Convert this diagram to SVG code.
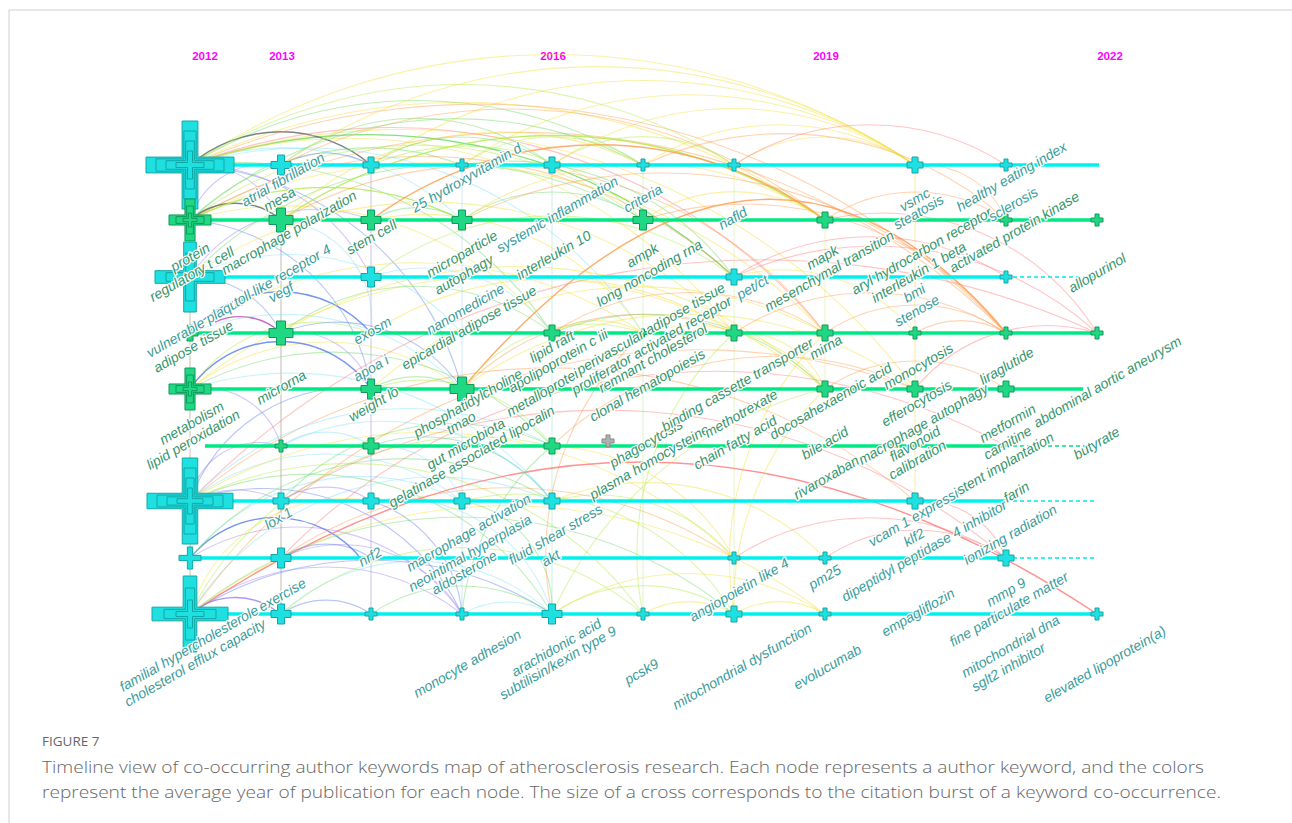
<svg xmlns="http://www.w3.org/2000/svg" xmlns:xlink="http://www.w3.org/1999/xlink" width="1292" height="823" viewBox="0 0 1292 823">
<style>
.yr{font-family:"Liberation Sans",Arial,sans-serif;font-weight:bold;font-size:11.5px;fill:#ff00ff;text-anchor:middle}
.kw text{font-family:"Liberation Sans",Arial,sans-serif;font-style:italic;font-size:14px;stroke:#fff;stroke-width:2.6;stroke-linejoin:round;paint-order:stroke;stroke-opacity:.95}
.lt{fill:#3a9c9a}.lg{fill:#35956c}
.arcs path{fill:none;stroke-width:1.1;opacity:.45}
.arcs path.s{opacity:.85;stroke-width:1.4}
.ag{stroke:#6edc68}.al{stroke:#b4ea4e}.ay{stroke:#f3df3a}.ao{stroke:#ff9f55}.ar{stroke:#ff7f7f}
.ac{stroke:#86e2fa}.ab{stroke:#5f82ee}.ap{stroke:#a084f2}.ak{stroke:#5d6f72}.am{stroke:#c04fc0}.at{stroke:#55ccb0}
.vl line{stroke-width:1;opacity:.55}
.rc{stroke:#00f0f0;stroke-width:3.5}.rg{stroke:#00e884;stroke-width:3.5}
.dc{stroke:#00e8e8;stroke-width:1.5;stroke-dasharray:4 3}.dg{stroke:#00e080;stroke-width:1.5;stroke-dasharray:4 3}
.nc{fill:#1fe0e0;stroke:#12a6a6;stroke-width:1}.ng{fill:#20d884;stroke:#0e9a58;stroke-width:1}.ngr{fill:#b0b0b0;stroke:#888;stroke-width:1}
.in{fill:none}
.cap{font-family:"Open Sans","Liberation Sans",sans-serif;fill:#666;font-weight:300}
</style>
<defs>
<path id="x8" d="M-1.5-4h3v2.5h2.5v3h-2.5v2.5h-3v-2.5h-2.5v-3h2.5z"/>
<path id="x12" d="M-2-6h4v4h4v4h-4v4h-4v-4h-4v-4h4z"/>
<path id="x16" d="M-3-8h6v5h5v6h-5v5h-6v-5h-5v-6h5z"/>
<path id="x20" d="M-3.5-10h7v6.5h6.5v7h-6.5v6.5h-7v-6.5h-6.5v-7h6.5z"/>
<path id="x24" d="M-4.5-12h9v7.5h7.5v9h-7.5v7.5h-9v-7.5h-7.5v-9h7.5z"/>
<path id="bc" d="M-.18-1h.36v.82h.82v.36h-.82v.82h-.36v-.82h-.82v-.36h.82z" vector-effect="non-scaling-stroke"/>
<path id="bw" d="M-.24-1h.48v.76h.76v.48h-.76v.76h-.48v-.76h-.76v-.48h.76z" vector-effect="non-scaling-stroke"/>
</defs>
<rect width="1292" height="823" fill="#fff"/>
<path d="M9 823V10H1292" fill="none" stroke="#cfcfcf" stroke-width="1"/>

<g id="years">
<text class="yr" x="205" y="60">2012</text>
<text class="yr" x="282" y="60">2013</text>
<text class="yr" x="553" y="60">2016</text>
<text class="yr" x="826" y="60">2019</text>
<text class="yr" x="1110" y="60">2022</text>
</g>

<g id="connectors">
<g class="vl">
<line x1="190" y1="165" x2="190" y2="614" stroke="#a08a6a"/>
<line x1="281" y1="220" x2="281" y2="614" stroke="#8f8070"/>
<line x1="371" y1="165" x2="371" y2="614" stroke="#9d8fdd"/>
<line x1="462" y1="165" x2="462" y2="614" stroke="#b0d0ff"/>
<line x1="552" y1="165" x2="552" y2="614" stroke="#9ee8cf"/>
<line x1="643" y1="165" x2="643" y2="614" stroke="#bdeea0"/>
<line x1="734" y1="165" x2="734" y2="614" stroke="#d8f0a0"/>
<line x1="825" y1="220" x2="825" y2="389" stroke="#dcef8a"/>
<line x1="915" y1="165" x2="915" y2="501" stroke="#f0df50"/>
</g>
<g class="arcs">
<path class="ay" d="M190 165A650 650 0 0 1 915 165"/>
<path class="ay" d="M190 165A620 620 0 0 1 825 220"/>
<path class="ag s" d="M190 165A540 540 0 0 1 734 277"/>
<path class="ag" d="M190 165A430 430 0 0 1 643 165"/>
<path class="ag" d="M190 165A380 380 0 0 1 552 333"/>
<path class="ac" d="M190 165A260 260 0 0 1 462 220"/>
<path class="ak s" d="M190 165A140 140 0 0 1 371 165"/>
<path class="ap" d="M190 165A90 90 0 0 1 281 220"/>
<path class="ap" d="M190 165A200 200 0 0 1 371 277"/>
<path class="ab" d="M190 165A300 300 0 0 1 462 389"/>
<path class="ao" d="M190 165A720 720 0 0 1 1006 333"/>
<path class="ay" d="M190 165A640 640 0 0 1 915 389"/>
<path class="al" d="M190 165A500 500 0 0 1 734 165"/>
<path class="ac" d="M190 165A400 400 0 0 1 643 333"/>
<path class="ar" d="M190 165A560 560 0 0 1 825 333"/>
<path class="ay" d="M190 165A480 480 0 0 1 734 333"/>
<path class="ag" d="M190 220A260 260 0 0 1 462 165"/>
<path class="ay" d="M190 220A340 340 0 0 1 552 333"/>
<path class="al" d="M190 220A380 380 0 0 1 643 220"/>
<path class="ay" d="M190 220A540 540 0 0 1 825 333"/>
<path class="ao" d="M190 220A680 680 0 0 1 1006 333"/>
<path class="ap" d="M190 220A80 80 0 0 1 281 165"/>
<path class="ab" d="M190 220A200 200 0 0 1 371 389"/>
<path class="ao" d="M190 220A460 460 0 0 1 734 277"/>
<path class="ak s" d="M190 220A70 70 0 0 1 281 220"/>
<path class="al s" d="M190 220A300 300 0 0 1 462 220"/>
<path class="ag" d="M190 220A400 400 0 0 1 643 165"/>
<path class="ap" d="M190 277A150 150 0 0 1 371 220"/>
<path class="ac" d="M190 277A230 230 0 0 1 462 333"/>
<path class="ay" d="M190 277A420 420 0 0 1 734 333"/>
<path class="ab" d="M190 277A100 100 0 0 1 281 333"/>
<path class="ag" d="M190 277A360 360 0 0 1 643 220"/>
<path class="ab s" d="M190 333A120 120 0 0 1 371 333"/>
<path class="am s" d="M215 322A60 60 0 0 1 281 333"/>
<path class="ac" d="M190 333A250 250 0 0 1 462 389"/>
<path class="ay" d="M190 333A400 400 0 0 1 643 333"/>
<path class="al" d="M190 389A150 150 0 0 1 371 333"/>
<path class="ay" d="M190 389A220 220 0 0 1 462 389"/>
<path class="ag" d="M190 389A300 300 0 0 1 552 446"/>
<path class="ay" d="M190 389A500 500 0 0 1 825 389"/>
<path class="ap" d="M190 389A80 80 0 0 1 281 446"/>
<path class="ab s" d="M190 389A110 110 0 0 1 371 389"/>
<path class="ac" d="M190 389A330 330 0 0 1 552 501"/>
<path class="ap" d="M190 501A70 70 0 0 1 281 446"/>
<path class="ac" d="M190 501A220 220 0 0 1 462 501"/>
<path class="ag" d="M190 501A280 280 0 0 1 552 614"/>
<path class="al" d="M190 501A360 360 0 0 1 643 614"/>
<path class="ab" d="M190 501A220 220 0 0 1 462 614"/>
<path class="ay" d="M190 501A440 440 0 0 1 734 558"/>
<path class="ao" d="M190 501A560 560 0 0 1 915 501"/>
<path class="ab" d="M190 501A170 170 0 0 1 371 389"/>
<path class="ar" d="M190 501A800 800 0 0 1 1097 333"/>
<path class="ap" d="M190 501A100 100 0 0 1 281 501"/>
<path class="ac" d="M190 501A300 300 0 0 1 552 446"/>
<path class="ab s" d="M190 558A110 110 0 0 1 362 560"/>
<path class="ac" d="M190 558A220 220 0 0 1 462 501"/>
<path class="ag" d="M190 558A280 280 0 0 1 552 501"/>
<path class="ap" d="M190 558A200 200 0 0 1 462 614"/>
<path class="ap s" d="M190 614A70 70 0 0 1 275 610"/>
<path class="ap" d="M190 614A220 220 0 0 1 462 614"/>
<path class="ac" d="M190 614A290 290 0 0 1 552 501"/>
<path class="ag" d="M190 614A430 430 0 0 1 734 614"/>
<path class="ar s" d="M190 614Q640 310 1097 614"/>
<path class="ay" d="M190 614A160 160 0 0 1 371 501"/>
<path class="ay" d="M190 614A520 520 0 0 1 825 614"/>
<path class="ao" d="M190 614A620 620 0 0 1 915 389"/>
<path class="ab" d="M190 614A330 330 0 0 1 552 614"/>
<path class="al" d="M190 614A320 320 0 0 1 552 446"/>
<path class="ab" d="M281 165A90 90 0 0 1 371 165"/>
<path class="ag" d="M281 165A220 220 0 0 1 552 165"/>
<path class="ay" d="M281 165A560 560 0 0 1 915 165"/>
<path class="ao" d="M281 165A500 500 0 0 1 825 220"/>
<path class="al s" d="M281 220A480 480 0 0 1 825 220"/>
<path class="ay" d="M281 220A320 320 0 0 1 643 165"/>
<path class="ao" d="M281 220A420 420 0 0 1 825 333"/>
<path class="ac" d="M281 220A100 100 0 0 1 371 333"/>
<path class="ap" d="M281 333A80 80 0 0 1 371 389"/>
<path class="ab" d="M281 333A150 150 0 0 1 462 389"/>
<path class="ag" d="M281 333A220 220 0 0 1 552 333"/>
<path class="ay" d="M281 333A450 450 0 0 1 825 389"/>
<path class="ac" d="M281 446A80 80 0 0 1 371 446"/>
<path class="ac" d="M281 446A220 220 0 0 1 552 501"/>
<path class="ap" d="M281 501A80 80 0 0 1 371 501"/>
<path class="ag" d="M281 501A230 230 0 0 1 552 446"/>
<path class="ar" d="M281 501A620 620 0 0 1 1006 558"/>
<path class="ab" d="M281 558A80 80 0 0 1 371 558"/>
<path class="ao" d="M281 558A400 400 0 0 1 734 558"/>
<path class="ab" d="M281 614A80 80 0 0 1 371 614"/>
<path class="ac" d="M281 614A200 200 0 0 1 552 614"/>
<path class="al" d="M281 614A280 280 0 0 1 643 614"/>
<path class="ap" d="M281 558A140 140 0 0 1 462 614"/>
<path class="ar" d="M281 558A600 600 0 0 1 1006 446"/>
<path class="ag" d="M371 165A160 160 0 0 1 552 165"/>
<path class="ay" d="M371 165A480 480 0 0 1 915 165"/>
<path class="al" d="M371 165A250 250 0 0 1 643 220"/>
<path class="ag" d="M371 220A90 90 0 0 1 462 220"/>
<path class="ay" d="M371 220A260 260 0 0 1 643 333"/>
<path class="ao s" d="M371 220A380 380 0 0 1 825 220"/>
<path class="ac" d="M371 277A160 160 0 0 1 552 333"/>
<path class="al" d="M371 277A300 300 0 0 1 734 277"/>
<path class="ag" d="M371 389A90 90 0 0 1 462 389"/>
<path class="al" d="M371 389A160 160 0 0 1 552 446"/>
<path class="at" d="M371 446A160 160 0 0 1 552 501"/>
<path class="ac" d="M371 446A90 90 0 0 1 462 501"/>
<path class="ab" d="M371 501A130 130 0 0 1 462 614"/>
<path class="ac" d="M371 501A160 160 0 0 1 552 614"/>
<path class="ag" d="M371 614A160 160 0 0 1 552 614"/>
<path class="ay" d="M371 333A330 330 0 0 1 734 333"/>
<path class="ay" d="M371 389A400 400 0 0 1 825 333"/>
<path class="al" d="M462 165A160 160 0 0 1 643 165"/>
<path class="ay" d="M462 165A400 400 0 0 1 915 165"/>
<path class="ag" d="M462 220A160 160 0 0 1 643 220"/>
<path class="ay" d="M462 220A320 320 0 0 1 825 220"/>
<path class="ao" d="M462 220A450 450 0 0 1 1006 333"/>
<path class="ao s" d="M462 389Q760 40 1006 333"/>
<path class="ao" d="M462 389A250 250 0 0 1 734 333"/>
<path class="al" d="M462 389A160 160 0 0 1 643 333"/>
<path class="ag" d="M462 501A110 110 0 0 1 552 614"/>
<path class="al" d="M462 501A250 250 0 0 1 734 614"/>
<path class="ac" d="M462 614A90 90 0 0 1 552 614"/>
<path class="ay" d="M462 389A380 380 0 0 1 915 389"/>
<path class="ag" d="M462 165A280 280 0 0 1 734 277"/>
<path class="ag" d="M462 614A250 250 0 0 1 552 446"/>
<path class="al" d="M552 165A160 160 0 0 1 734 165"/>
<path class="ay" d="M552 165A320 320 0 0 1 915 165"/>
<path class="ay" d="M552 333A90 90 0 0 1 643 333"/>
<path class="ao" d="M552 333A250 250 0 0 1 825 333"/>
<path class="ay" d="M552 446A220 220 0 0 1 734 558"/>
<path class="al" d="M552 501A180 180 0 0 1 734 558"/>
<path class="ay" d="M552 501A250 250 0 0 1 825 558"/>
<path class="al" d="M552 614A160 160 0 0 1 734 614"/>
<path class="ay" d="M552 614A250 250 0 0 1 825 614"/>
<path class="ao" d="M552 446A320 320 0 0 1 915 389"/>
<path class="ag" d="M552 333A250 250 0 0 1 825 389"/>
<path class="ao" d="M552 614A300 300 0 0 1 643 333"/>
<path class="al" d="M552 614A400 400 0 0 1 825 389"/>
<path class="ay" d="M643 165A250 250 0 0 1 915 165"/>
<path class="ao" d="M643 165A330 330 0 0 1 1006 220"/>
<path class="ay" d="M643 220A160 160 0 0 1 825 220"/>
<path class="ao" d="M643 220A330 330 0 0 1 1006 333"/>
<path class="ay" d="M643 333A170 170 0 0 1 825 389"/>
<path class="ay" d="M643 614A90 90 0 0 1 734 614"/>
<path class="al" d="M643 614A300 300 0 0 1 734 333"/>
<path class="ay" d="M734 165A160 160 0 0 1 915 165"/>
<path class="ar" d="M734 165A250 250 0 0 1 1006 165"/>
<path class="ar" d="M734 277A250 250 0 0 1 1006 277"/>
<path class="ay" d="M734 277A170 170 0 0 1 915 333"/>
<path class="ao" d="M734 333A250 250 0 0 1 1006 333"/>
<path class="ay" d="M734 333A90 90 0 0 1 825 389"/>
<path class="ar" d="M734 558A250 250 0 0 1 1006 558"/>
<path class="ay" d="M734 614A90 90 0 0 1 825 614"/>
<path class="ar" d="M734 277A330 330 0 0 1 1097 333"/>
<path class="ay" d="M734 614A300 300 0 0 1 825 389"/>
<path class="ay" d="M734 614A320 320 0 0 1 825 333"/>
<path class="ao" d="M825 220A160 160 0 0 1 1006 220"/>
<path class="ar" d="M825 220A250 250 0 0 1 1097 333"/>
<path class="ao" d="M825 389A160 160 0 0 1 1006 389"/>
<path class="ao" d="M825 333A160 160 0 0 1 1006 333"/>
<path class="ar" d="M825 558A160 160 0 0 1 1006 558"/>
<path class="ao" d="M915 165A90 90 0 0 1 1006 220"/>
<path class="ar" d="M915 501A90 90 0 0 1 1006 558"/>
<path class="ar" d="M915 389A170 170 0 0 1 1097 333"/>
<path class="ao" d="M915 333A90 90 0 0 1 1006 333"/>
</g>
</g>

<g id="timelines">
<line class="rc" x1="190" y1="165" x2="1099" y2="165"/>
<line class="rg" x1="190" y1="220" x2="1097" y2="220"/>
<line class="rc" x1="190" y1="277" x2="1006" y2="277"/><line class="dc" x1="1006" y1="277" x2="1097" y2="277"/>
<line class="rg" x1="190" y1="333" x2="1097" y2="333"/>
<line class="rg" x1="190" y1="389" x2="1083" y2="389"/>
<line class="rg" x1="205" y1="446" x2="1006" y2="446"/><line class="dg" x1="1006" y1="446" x2="1090" y2="446"/>
<line class="rc" x1="190" y1="501" x2="1006" y2="501"/><line class="dc" x1="1006" y1="501" x2="1097" y2="501"/>
<line class="rc" x1="190" y1="558" x2="1006" y2="558"/><line class="dc" x1="1006" y1="558" x2="1097" y2="558"/>
<line class="rc" x1="190" y1="614" x2="1097" y2="614"/>
</g>

<g id="node-row1" class="nc">
<use href="#bc" transform="translate(190 165) scale(44)"/>
<use href="#bc" class="in" transform="translate(190 165) scale(34)"/>
<use href="#bc" class="in" transform="translate(190 165) scale(24)"/>
<use href="#bc" class="in" transform="translate(190 165) scale(14)"/>
<use href="#x20" x="281" y="165"/><use href="#x16" x="371" y="165"/><use href="#x12" x="462" y="165"/><use href="#x16" x="552" y="165"/><use href="#x12" x="643" y="165"/><use href="#x12" x="734" y="165"/><use href="#x16" x="915" y="165"/><use href="#x12" x="1006" y="165"/>
</g>
<g id="node-row2" class="ng">
<use href="#bw" transform="translate(190 220) scale(21)"/>
<use href="#bw" class="in" transform="translate(190 220) scale(14)"/>
<use href="#bw" class="in" transform="translate(190 220) scale(7)"/>
<use href="#x24" x="281" y="220"/><use href="#x20" x="371" y="220"/><use href="#x20" x="462" y="220"/><use href="#x20" x="643" y="220"/><use href="#x16" x="825" y="220"/><use href="#x12" x="1006" y="220"/><use href="#x12" x="1097" y="220"/>
</g>
<g id="node-row3" class="nc">
<use href="#bc" transform="translate(190 277) scale(35)"/>
<use href="#bc" class="in" transform="translate(190 277) scale(24)"/>
<use href="#x20" x="371" y="277"/><use href="#x16" x="734" y="277"/><use href="#x12" x="1006" y="277"/>
</g>
<g id="node-row4" class="ng">
<use href="#x16" x="190" y="333"/><use href="#x24" x="281" y="333"/><use href="#x16" x="552" y="333"/><use href="#x8" x="643" y="333"/><use href="#x16" x="734" y="333"/><use href="#x16" x="825" y="333"/><use href="#x12" x="915" y="333"/><use href="#x12" x="1006" y="333"/><use href="#x12" x="1097" y="333"/>
</g>
<g id="node-row5" class="ng">
<use href="#bw" transform="translate(190 389) scale(21)"/>
<use href="#bw" class="in" transform="translate(190 389) scale(14)"/>
<use href="#bw" class="in" transform="translate(190 389) scale(7)"/>
<use href="#x20" x="371" y="389"/><use href="#x24" x="462" y="389"/><use href="#x16" x="825" y="389"/><use href="#x16" x="915" y="389"/><use href="#x16" x="1006" y="389"/>
</g>
<g id="node-row6" class="ng">
<use href="#x12" x="281" y="446"/><use href="#x16" x="371" y="446"/><use href="#x16" x="552" y="446"/>
<use href="#x12" class="ngr" x="608" y="441"/>
</g>
<g id="node-row7" class="nc">
<use href="#bc" transform="translate(190 501) scale(43)"/>
<use href="#bc" class="in" transform="translate(190 501) scale(33)"/>
<use href="#bc" class="in" transform="translate(190 501) scale(23)"/>
<use href="#bc" class="in" transform="translate(190 501) scale(13)"/>
<use href="#x16" x="281" y="501"/><use href="#x16" x="371" y="501"/><use href="#x16" x="462" y="501"/><use href="#x16" x="552" y="501"/><use href="#x16" x="915" y="501"/>
</g>
<g id="node-row8" class="nc">
<use href="#bw" transform="translate(190 558) scale(11)"/>
<use href="#x20" x="281" y="558"/><use href="#x12" x="734" y="558"/><use href="#x12" x="825" y="558"/><use href="#x16" x="1006" y="558"/>
</g>
<g id="node-row9" class="nc">
<use href="#bc" transform="translate(190 614) scale(38)"/>
<use href="#bc" class="in" transform="translate(190 614) scale(26)"/>
<use href="#bc" class="in" transform="translate(190 614) scale(14)"/>
<use href="#x20" x="281" y="614"/><use href="#x12" x="371" y="614"/><use href="#x12" x="462" y="614"/><use href="#x20" x="552" y="614"/><use href="#x12" x="643" y="614"/><use href="#x16" x="734" y="614"/><use href="#x12" x="825" y="614"/><use href="#x12" x="1097" y="614"/>
</g>

<g class="kw">
<g id="kw-protein" class="lg"><text transform="translate(174 272)rotate(-30)">protein</text></g>
<g id="kw-regulatory-t-cell" class="lg"><text transform="translate(153 302)rotate(-30)">regulatory t cell</text></g>
<g id="kw-macrophage-polarization" class="lg"><text transform="translate(225 275)rotate(-30)">macrophage polarization</text></g>
<g id="kw-atrial-fibrillation" class="lt"><text transform="translate(245 207)rotate(-30)">atrial fibrillation</text></g>
<g id="kw-mesa" class="lg"><text transform="translate(267 212)rotate(-30)">mesa</text></g>
<g id="kw-vulnerable-plaque" class="lt"><text transform="translate(150 358)rotate(-30)">vulnerable plaque</text></g>
<g id="kw-toll-like-receptor-4" class="lt"><text transform="translate(237 307)rotate(-30)">toll like receptor 4</text></g>
<g id="kw-vegf" class="lt"><text transform="translate(272 303)rotate(-30)">vegf</text></g>
<g id="kw-adipose-tissue" class="lg"><text transform="translate(157 373)rotate(-30)">adipose tissue</text></g>
<g id="kw-stem-cell" class="lg"><text transform="translate(350 255)rotate(-30)">stem cell</text></g>
<g id="kw-exosm" class="lt"><text transform="translate(357 345)rotate(-30)">exosm</text></g>
<g id="kw-apoa-i" class="lt"><text transform="translate(357 382)rotate(-30)">apoa i</text></g>
<g id="kw-microrna" class="lg"><text transform="translate(260 405)rotate(-30)">microrna</text></g>
<g id="kw-weight-lo" class="lg"><text transform="translate(352 422)rotate(-30)">weight lo</text></g>
<g id="kw-metabolism" class="lg"><text transform="translate(163 445)rotate(-30)">metabolism</text></g>
<g id="kw-lipid-peroxidation" class="lg"><text transform="translate(150 470)rotate(-30)">lipid peroxidation</text></g>
<g id="kw-lox-1" class="lt"><text transform="translate(268 530)rotate(-30)">lox 1</text></g>
<g id="kw-nrf2" class="lt"><text transform="translate(362 567)rotate(-30)">nrf2</text></g>
<g id="kw-familial-hypercholesterolemia" class="lt"><text transform="translate(123 692)rotate(-30)">familial hypercholesterole</text></g>
<g id="kw-exercise" class="lt"><text transform="translate(262 612)rotate(-30)">exercise</text></g>
<g id="kw-cholesterol-efflux-capacity" class="lt"><text transform="translate(128 707)rotate(-30)">cholesterol efflux capacity</text></g>
<g id="kw-25-hydroxyvitamin-d" class="lt"><text transform="translate(415 213)rotate(-30)">25 hydroxyvitamin d</text></g>
<g id="kw-systemic-inflammation" class="lt"><text transform="translate(500 253)rotate(-30)">systemic inflammation</text></g>
<g id="kw-criteria" class="lt"><text transform="translate(627 213)rotate(-30)">criteria</text></g>
<g id="kw-microparticle" class="lg"><text transform="translate(430 278)rotate(-30)">microparticle</text></g>
<g id="kw-autophagy" class="lg"><text transform="translate(438 295)rotate(-30)">autophagy</text></g>
<g id="kw-interleukin-10" class="lg"><text transform="translate(520 280)rotate(-30)">interleukin 10</text></g>
<g id="kw-ampk" class="lg"><text transform="translate(630 268)rotate(-30)">ampk</text></g>
<g id="kw-long-noncoding-rna" class="lg"><text transform="translate(600 307)rotate(-30)">long noncoding rna</text></g>
<g id="kw-nanomedicine" class="lt"><text transform="translate(430 335)rotate(-30)">nanomedicine</text></g>
<g id="kw-epicardial-adipose-tissue" class="lg"><text transform="translate(405 370)rotate(-30)">epicardial adipose tissue</text></g>
<g id="kw-lipid-raft" class="lg"><text transform="translate(533 363)rotate(-30)">lipid raft</text></g>
<g id="kw-apolipoprotein-c-iii" class="lg"><text transform="translate(512 393)rotate(-30)">apolipoprotein c iii</text></g>
<g id="kw-metalloprotei" class="lg"><text transform="translate(510 417)rotate(-30)">metalloprotei</text></g>
<g id="kw-perivascular-adipose-tissue" class="lg"><text transform="translate(580 375)rotate(-30)">perivascular adipose tissue</text></g>
<g id="kw-proliferator-activated-receptor" class="lg"><text transform="translate(575 395)rotate(-30)">proliferator activated receptor</text></g>
<g id="kw-pet-ct" class="lt"><text transform="translate(740 300)rotate(-30)">pet/ct</text></g>
<g id="kw-remnant-cholesterol" class="lg"><text transform="translate(602 393)rotate(-30)">remnant cholesterol</text></g>
<g id="kw-clonal-hematopoiesis" class="lg"><text transform="translate(593 422)rotate(-30)">clonal hematopoiesis</text></g>
<g id="kw-phosphatidylcholine" class="lg"><text transform="translate(417 438)rotate(-30)">phosphatidylcholine</text></g>
<g id="kw-tmao" class="lg"><text transform="translate(450 435)rotate(-30)">tmao</text></g>
<g id="kw-gut-microbiota" class="lg"><text transform="translate(430 470)rotate(-30)">gut microbiota</text></g>
<g id="kw-gelatinase-associated-lipocalin" class="lg"><text transform="translate(392 508)rotate(-30)">gelatinase associated lipocalin</text></g>
<g id="kw-phagocytosis" class="lg"><text transform="translate(613 468)rotate(-30)">phagocytosis</text></g>
<g id="kw-binding-cassette-transporter" class="lg"><text transform="translate(665 432)rotate(-30)">binding cassette transporter</text></g>
<g id="kw-plasma-homocysteine" class="lg"><text transform="translate(593 500)rotate(-30)">plasma homocysteine</text></g>
<g id="kw-methotrexate" class="lg"><text transform="translate(708 438)rotate(-30)">methotrexate</text></g>
<g id="kw-chain-fatty-acid" class="lg"><text transform="translate(697 470)rotate(-30)">chain fatty acid</text></g>
<g id="kw-docosahexaenoic-acid" class="lg"><text transform="translate(773 440)rotate(-30)">docosahexaenoic acid</text></g>
<g id="kw-bile-acid" class="lg"><text transform="translate(805 460)rotate(-30)">bile acid</text></g>
<g id="kw-macrophage-activation" class="lt"><text transform="translate(410 572)rotate(-30)">macrophage activation</text></g>
<g id="kw-neointimal-hyperplasia" class="lt"><text transform="translate(412 592)rotate(-30)">neointimal hyperplasia</text></g>
<g id="kw-aldosterone" class="lt"><text transform="translate(435 595)rotate(-30)">aldosterone</text></g>
<g id="kw-fluid-shear-stress" class="lt"><text transform="translate(512 565)rotate(-30)">fluid shear stress</text></g>
<g id="kw-akt" class="lt"><text transform="translate(545 567)rotate(-30)">akt</text></g>
<g id="kw-monocyte-adhesion" class="lt"><text transform="translate(417 698)rotate(-30)">monocyte adhesion</text></g>
<g id="kw-arachidonic-acid" class="lt"><text transform="translate(515 677)rotate(-30)">arachidonic acid</text></g>
<g id="kw-subtilisin-kexin-type-9" class="lt"><text transform="translate(503 700)rotate(-30)">subtilisin/kexin type 9</text></g>
<g id="kw-pcsk9" class="lt"><text transform="translate(628 685)rotate(-30)">pcsk9</text></g>
<g id="kw-angiopoietin-like-4" class="lt"><text transform="translate(693 622)rotate(-30)">angiopoietin like 4</text></g>
<g id="kw-mitochondrial-dysfunction" class="lt"><text transform="translate(676 710)rotate(-30)">mitochondrial dysfunction</text></g>
<g id="kw-evolucumab" class="lt"><text transform="translate(797 690)rotate(-30)">evolucumab</text></g>
<g id="kw-pm25" class="lt"><text transform="translate(812 590)rotate(-30)">pm25</text></g>
<g id="kw-dipeptidyl-peptidase-4-inhibitor" class="lt"><text transform="translate(845 602)rotate(-30)">dipeptidyl peptidase 4 inhibitor</text></g>
<g id="kw-klf2" class="lt"><text transform="translate(907 547)rotate(-30)">klf2</text></g>
<g id="kw-vcam-1-expression" class="lt"><text transform="translate(872 547)rotate(-30)">vcam 1 expression</text></g>
<g id="kw-stent-implantation" class="lg"><text transform="translate(960 495)rotate(-30)">stent implantation</text></g>
<g id="kw-farin" class="lg"><text transform="translate(1007 503)rotate(-30)">farin</text></g>
<g id="kw-ionizing-radiation" class="lt"><text transform="translate(967 565)rotate(-30)">ionizing radiation</text></g>
<g id="kw-empagliflozin" class="lt"><text transform="translate(885 637)rotate(-30)">empagliflozin</text></g>
<g id="kw-mmp-9" class="lt"><text transform="translate(990 607)rotate(-30)">mmp 9</text></g>
<g id="kw-fine-particulate-matter" class="lt"><text transform="translate(953 647)rotate(-30)">fine particulate matter</text></g>
<g id="kw-mitochondrial-dna" class="lt"><text transform="translate(965 678)rotate(-30)">mitochondrial dna</text></g>
<g id="kw-sglt2-inhibitor" class="lt"><text transform="translate(975 692)rotate(-30)">sglt2 inhibitor</text></g>
<g id="kw-elevated-lipoprotein-a" class="lt"><text transform="translate(1047 703)rotate(-30)">elevated lipoprotein(a)</text></g>
<g id="kw-rivaroxaban" class="lg"><text transform="translate(797 500)rotate(-30)">rivaroxaban</text></g>
<g id="kw-macrophage-autophagy" class="lg"><text transform="translate(862 465)rotate(-30)">macrophage autophagy</text></g>
<g id="kw-flavonoid" class="lg"><text transform="translate(893 462)rotate(-30)">flavonoid</text></g>
<g id="kw-calibration" class="lg"><text transform="translate(892 480)rotate(-30)">calibration</text></g>
<g id="kw-efferocytosis" class="lg"><text transform="translate(885 427)rotate(-30)">efferocytosis</text></g>
<g id="kw-monocytosis" class="lg"><text transform="translate(887 390)rotate(-30)">monocytosis</text></g>
<g id="kw-liraglutide" class="lg"><text transform="translate(983 385)rotate(-30)">liraglutide</text></g>
<g id="kw-metformin" class="lg"><text transform="translate(983 443)rotate(-30)">metformin</text></g>
<g id="kw-carnitine" class="lg"><text transform="translate(987 460)rotate(-30)">carnitine</text></g>
<g id="kw-abdominal-aortic-aneurysm" class="lg"><text transform="translate(1037 428)rotate(-30)">abdominal aortic aneurysm</text></g>
<g id="kw-butyrate" class="lg"><text transform="translate(1077 460)rotate(-30)">butyrate</text></g>
<g id="kw-mirna" class="lg"><text transform="translate(813 360)rotate(-30)">mirna</text></g>
<g id="kw-stenose" class="lt"><text transform="translate(898 327)rotate(-30)">stenose</text></g>
<g id="kw-bmi" class="lt"><text transform="translate(907 303)rotate(-30)">bmi</text></g>
<g id="kw-interleukin-1-beta" class="lg"><text transform="translate(875 303)rotate(-30)">interleukin 1 beta</text></g>
<g id="kw-aryl-hydrocarbon-receptor" class="lg"><text transform="translate(855 295)rotate(-30)">aryl hydrocarbon receptor</text></g>
<g id="kw-mesenchymal-transition" class="lg"><text transform="translate(768 312)rotate(-30)">mesenchymal transition</text></g>
<g id="kw-mapk" class="lg"><text transform="translate(810 270)rotate(-30)">mapk</text></g>
<g id="kw-steatosis" class="lt"><text transform="translate(897 230)rotate(-30)">steatosis</text></g>
<g id="kw-vsmc" class="lt"><text transform="translate(903 212)rotate(-30)">vsmc</text></g>
<g id="kw-healthy-eating-index" class="lt"><text transform="translate(960 212)rotate(-30)">healthy eating index</text></g>
<g id="kw-sclerosis" class="lt"><text transform="translate(992 222)rotate(-30)">sclerosis</text></g>
<g id="kw-activated-protein-kinase" class="lg"><text transform="translate(953 273)rotate(-30)">activated protein kinase</text></g>
<g id="kw-allopurinol" class="lg"><text transform="translate(1072 293)rotate(-30)">allopurinol</text></g>
<g id="kw-nafld" class="lt"><text transform="translate(722 230)rotate(-30)">nafld</text></g>
</g>

<g id="caption">
<text class="cap" x="42" y="746" font-size="13.5" style="font-weight:500" fill="#555">FIGURE 7</text>
<text class="cap" x="42" y="773" font-size="17" textLength="1162" lengthAdjust="spacingAndGlyphs">Timeline view of co-occurring author keywords map of atherosclerosis research. Each node represents a author keyword, and the colors</text>
<text class="cap" x="42" y="798" font-size="17" textLength="1179" lengthAdjust="spacingAndGlyphs">represent the average year of publication for each node. The size of a cross corresponds to the citation burst of a keyword co-occurrence.</text>
</g>
</svg>
